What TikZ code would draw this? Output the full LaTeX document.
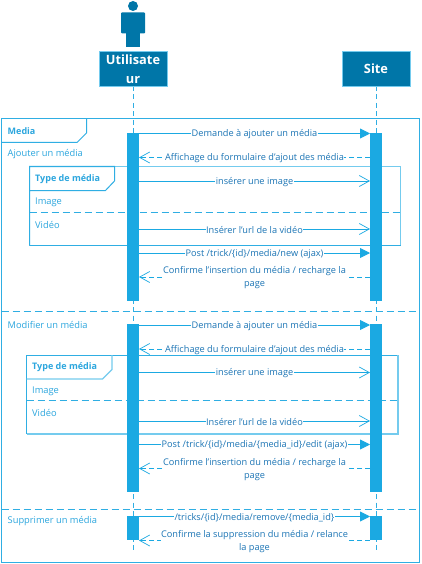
\documentclass[tikz,border=0pt]{standalone}
\usepackage{fontspec}
\setmainfont{Open Sans}
\usetikzlibrary{arrows.meta,calc}
\definecolor{boxblue}{HTML}{0076A8}
\definecolor{actblue}{HTML}{1BA9E2}
\definecolor{framec}{HTML}{2FAEE3}
\definecolor{lightf}{HTML}{74CBEE}
\definecolor{msgtxt}{HTML}{1C75B5}
\definecolor{lblc}{HTML}{2BA6DE}
\tikzset{
  x=1pt,y=-1pt,
  headbox/.style={draw=lightf,line width=.6pt,fill=boxblue,text=white,font=\fontsize{12.8}{19}\selectfont\bfseries,minimum width=68pt,minimum height=35pt,text width=66pt,align=center,inner sep=0pt,outer sep=0pt},
  life/.style={draw=framec,line width=.7pt,dash pattern=on 5pt off 3.5pt},
  activation/.style={fill=actblue,draw=none,minimum width=12pt,inner sep=0pt,outer sep=0pt},
  frameline/.style={draw=framec,line width=1pt},
  lightframe/.style={draw=lightf,line width=1.1pt},
  divider/.style={draw=framec,line width=1pt,dash pattern=on 7.5pt off 3.5pt},
  msgsolid/.style={draw=actblue,line width=.9pt,-{Triangle[length=10pt,width=10pt,fill=actblue]}},
  msgopen/.style={draw=actblue,line width=.9pt,-{Straight Barb[length=10pt,width=11pt,line width=.7pt]}},
  msgback/.style={draw=actblue,line width=.8pt,dash pattern=on 5pt off 3pt,-{Straight Barb[length=10pt,width=11pt,line width=.7pt]}},
  msglabel/.style={fill=white,text=msgtxt,font=\fontsize{9.2}{13.3}\selectfont,inner xsep=.5pt,inner ysep=0pt,align=center,yshift=-.8pt},
  framelabel/.style={text=lblc,font=\fontsize{9.3}{10}\selectfont,anchor=west,inner sep=0pt,yshift=-1pt},
  tablabel/.style={text=lblc,font=\fontsize{9}{10}\selectfont\bfseries,anchor=west,inner sep=0pt,yshift=-.6pt},
}
\newcommand{\msgline}[5]{% style, from, to, y, label
  \path[#1] (#2 |- 0,#4) -- node[msglabel,midway]{#5} (#3 |- 0,#4);}
\begin{document}
\begin{tikzpicture}
\useasboundingbox (0,0) rectangle (421,564);
% outer frame
\path[frameline,fill=white] (1.5,118.5) rectangle (419.5,562);
% lifelines
\coordinate (ua) at (133,86);
\coordinate (ub) at (133,553);
\coordinate (sa) at (376,86);
\coordinate (sb) at (376,553);
\path[life] (ua) -- (ub);
\path[life] (sa) -- (sb);
% actor
\fill[boxblue] (133,6) circle (5);
\fill[boxblue,rounded corners=1pt] (121,12.5) rectangle (145,33.5);
\fill[boxblue] (126,30) rectangle (140,47);
% heads
\node[headbox] (u) at (133,69) {Utilisate\\ur};
\node[headbox,yshift=-.5pt] (s) at (376,68.5) {Site};
% outer frame tab
\path[frameline] (1.5,142.5) -- (77,142.5) -- (86.5,133) -- (86.5,118.5);
\node[tablabel] (tm) at (7.5,130.5) {Media};
\node[framelabel] (l1) at (7.5,153.5) {Ajouter un média};
\node[framelabel] (l2) at (7.5,323.5) {Modifier un média};
\node[framelabel] (l3) at (7.5,520.5) {Supprimer un média};
% dividers
\path[divider] (1.5,311.7) -- (419.5,311.7);
\path[divider] (1.5,509.7) -- (419.5,509.7);
% inner frame 1
\path[lightframe] (29.5,166.5) rectangle (400.5,245.5);
\path[frameline] (29.5,245.5) -- (29.5,190.5) -- (105.5,190.5) -- (114.5,181) -- (114.5,166.5) -- (29.5,166.5) -- (29.5,190.5);
\path[frameline] (29.5,245.5) -- (400.5,245.5);
\path[divider] (29.5,212) -- (400.5,212);
\node[tablabel] (t1) at (35,178.5) {Type de média};
\node[framelabel] (i1) at (35,201.5) {Image};
\node[framelabel] (v1) at (35,223.5) {Vidéo};
% inner frame 2
\path[frameline] (26.5,434) -- (26.5,355) -- (398,355);
\path[lightframe] (398,355) -- (398,434) -- (26.5,434);
\path[lightframe] (26.5,379) -- (102.5,379) -- (112,369.5) -- (112,355);
\path[divider] (26.5,400) -- (398,400);
\node[tablabel] (t2) at (32,367) {Type de média};
\node[framelabel] (i2) at (32,390.5) {Image};
\node[framelabel] (v2) at (32,411.5) {Vidéo};
% activations
\node[activation,minimum height=168pt] (a1) at (133,217) {};
\node[activation,minimum height=168pt] (b1) at (376,217) {};
\node[activation,minimum height=168pt] (a2) at (133,408) {};
\node[activation,minimum height=168pt] (b2) at (376,408) {};
\node[activation,minimum height=24.5pt] (a3) at (133,528) {};
\node[activation,minimum height=24.5pt] (b3) at (376,528) {};
% messages block 1
\msgline{msgsolid}{a1.east}{b1.west}{133.5}{Demande à ajouter un média}
\msgline{msgback}{b1.west}{a1.east}{157.5}{Affichage du formulaire d'ajout des média}
\msgline{msgopen}{a1.east}{b1.west}{181}{insérer une image}
\msgline{msgopen}{a1.east}{b1.west}{229}{Insérer l'url de la vidéo}
\msgline{msgsolid}{a1.east}{b1.west}{253}{Post /trick/\{id\}/media/new (ajax)}
\msgline{msgback}{b1.west}{a1.east}{277}{Confirme l'insertion du média / recharge la\\page}
% messages block 2
\msgline{msgsolid}{a2.east}{b2.west}{325}{Demande à ajouter un média}
\msgline{msgback}{b2.west}{a2.east}{349}{Affichage du formulaire d'ajout des média}
\msgline{msgopen}{a2.east}{b2.west}{372.5}{insérer une image}
\msgline{msgopen}{a2.east}{b2.west}{421}{Insérer l'url de la vidéo}
\msgline{msgsolid}{a2.east}{b2.west}{444.5}{Post /trick/\{id\}/media/\{media\_id\}/edit (ajax)}
\msgline{msgback}{b2.west}{a2.east}{468.5}{Confirme l'insertion du média / recharge la\\page}
% messages block 3
\msgline{msgsolid}{a3.east}{b3.west}{516.5}{/tricks/\{id\}/media/remove/\{media\_id\}}
\msgline{msgback}{b3.west}{a3.east}{540.5}{Confirme la suppression du média / relance\\la page}
\end{tikzpicture}
\end{document}
